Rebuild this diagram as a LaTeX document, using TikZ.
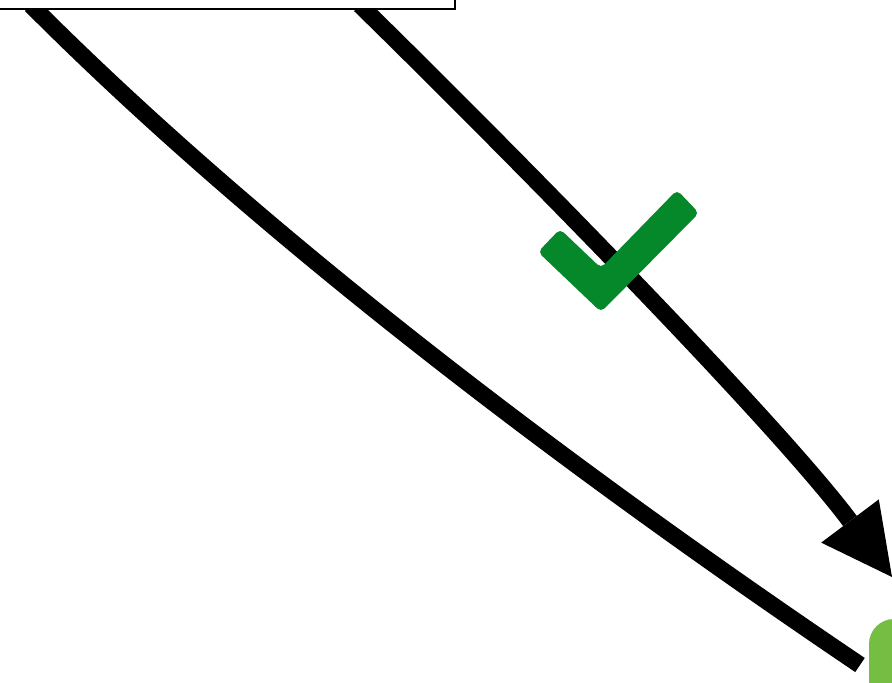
\documentclass[tikz,border=0pt]{standalone}
\usetikzlibrary{arrows.meta}
\definecolor{checkgreen}{RGB}{5,136,42}
\definecolor{leafgreen}{RGB}{118,190,67}
\begin{document}
\begin{tikzpicture}[x=1pt,y=-1pt,
  conn/.style={line width=17pt},
  boxstyle/.style={draw=black, line width=2pt, fill=white, rectangle, inner sep=0pt},
  leafstyle/.style={fill=leafgreen, rectangle, rounded corners=25pt, inner sep=0pt},
  checkstyle/.style={fill=checkgreen, rounded corners=5pt}]
\useasboundingbox (0,0) rectangle (892,683);
\clip (0,0) rectangle (892,683);
\fill[white] (0,0) rectangle (892,683);
% named end points
\coordinate (s1) at (31,5);
\coordinate (e1) at (860,665);
\coordinate (s2) at (360,5);
\coordinate (e2) at (892,577);
% connectors
\draw[conn] (s1) .. controls (268,243) and (586,480) .. (e1);
\draw[conn, -{Triangle[length=70pt,width=72pt,line width=0pt]}]
  (s2) .. controls (493,135) and (772,417) .. (e2);
% check mark
\fill[checkstyle] (538,252) -- (560,229) -- (601,268) -- (677,190) -- (699,213) -- (601,312) -- cycle;
% box at top left
\node[boxstyle, minimum width=475pt, minimum height=109pt] (box) at (217.5,-45.5) {};
% green shape at bottom right
\node[leafstyle, minimum width=120pt, minimum height=120pt] (leaf) at (929,679) {};
\end{tikzpicture}
\end{document}
